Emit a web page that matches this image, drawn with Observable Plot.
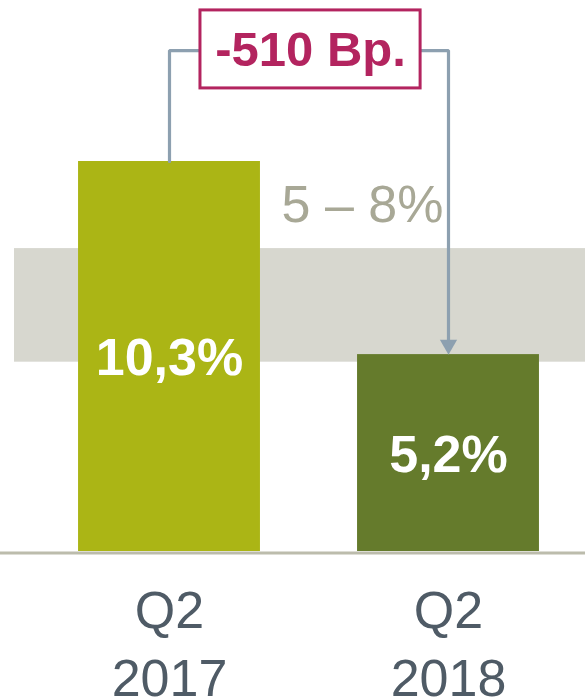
<!DOCTYPE html>
<html>
<head>
<meta charset="utf-8">
<script src="https://cdn.jsdelivr.net/npm/d3@7"></script>
<script src="https://cdn.jsdelivr.net/npm/@observablehq/plot@0.6"></script>
<style>
  html, body { margin: 0; padding: 0; background: #ffffff; }
  #chart svg { display: block; }
</style>
</head>
<body>
<div id="chart"></div>
<script>
// ---- Data ----
const categories = ["Q2\n2017", "Q2\n2018"];
const values = [10.3, 5.2];
const valueLabels = ["10,3%", "5,2%"];
const barColors = ["#abb515", "#657b2c"];
const targetRange = [5, 8];
const targetLabel = "5 – 8%";
const changeLabel = "-510 Bp.";

const data = categories.map((c, i) => ({i, category: c, value: values[i], label: valueLabels[i]}));

// ---- Layout helpers (annotation geometry in data units) ----
const half = 0.326;          // half bar width in x units
const level = 13.23;         // height of bracket connector
const boxX = [0.111, 0.9];
const boxY = [12.23, 14.29];
const lineColor = "#8da0b0";
const accent = "#b3245f";

const chart = Plot.plot({
  width: 585,
  height: 700,
  marginTop: 0, marginRight: 0, marginBottom: 0, marginLeft: 0,
  style: {fontFamily: "Arial, 'Liberation Sans', sans-serif", background: "#ffffff", overflow: "visible"},
  x: {type: "linear", domain: [0, 1], range: [169, 448], axis: null},
  y: {domain: [0, 10.3], range: [551, 161], axis: null},
  color: {domain: categories, range: barColors},
  marks: [
    // target band
    Plot.rectY([targetRange], {y1: d => d[0], y2: d => d[1], fill: "#d7d7cf", insetLeft: 14}),
    // band label
    Plot.text([targetLabel], {x: 1, y: targetRange[1], text: d => d, textAnchor: "end", lineAnchor: "bottom",
      dx: -5, dy: -27, fontSize: 52, fill: "#a8a896"}),
    // bars
    Plot.rectY(data, {x1: d => d.i - half, x2: d => d.i + half, y1: 0, y2: "value", fill: "category"}),
    // baseline
    Plot.ruleY([0], {stroke: "#bcbcac", strokeWidth: 3, dy: 1.5}),
    // value labels
    Plot.text(data, {x: "i", y: d => d.value / 2, text: "label", fill: "white", fontWeight: "bold",
      fontSize: 52, lineAnchor: "middle", dy: 2}),
    // category labels
    Plot.text(data, {x: "i", y: 0, text: "category", fill: "#4f5b66", fontSize: 52, lineAnchor: "top",
      lineHeight: 1.308, dy: 28}),
    // connectors
    Plot.line([[0, values[0]], [0, level], [boxX[0], level]], {x: d => d[0], y: d => d[1], stroke: lineColor, strokeWidth: 3.2, strokeLinejoin: "miter"}),
    Plot.line([[boxX[1], level], [1, level], [1, values[1] + 0.3]], {x: d => d[0], y: d => d[1], stroke: lineColor, strokeWidth: 3.2, strokeLinejoin: "miter"}),
    // arrowhead
    Plot.dot([values[1]], {x: 1, y: d => d, symbol: "triangle", r: 6.4, fill: lineColor, stroke: null, rotate: 180, dy: -9.9}),
    // change box
    Plot.rect([changeLabel], {x1: boxX[0], x2: boxX[1], y1: boxY[0], y2: boxY[1], fill: "white", stroke: accent, strokeWidth: 3}),
    Plot.text([changeLabel], {x: (boxX[0] + boxX[1]) / 2, y: (boxY[0] + boxY[1]) / 2, text: d => d,
      fill: accent, fontWeight: "bold", fontSize: 49, lineAnchor: "middle", dy: 1})
  ]
});
document.getElementById("chart").appendChild(chart);
</script>
</body>
</html>
